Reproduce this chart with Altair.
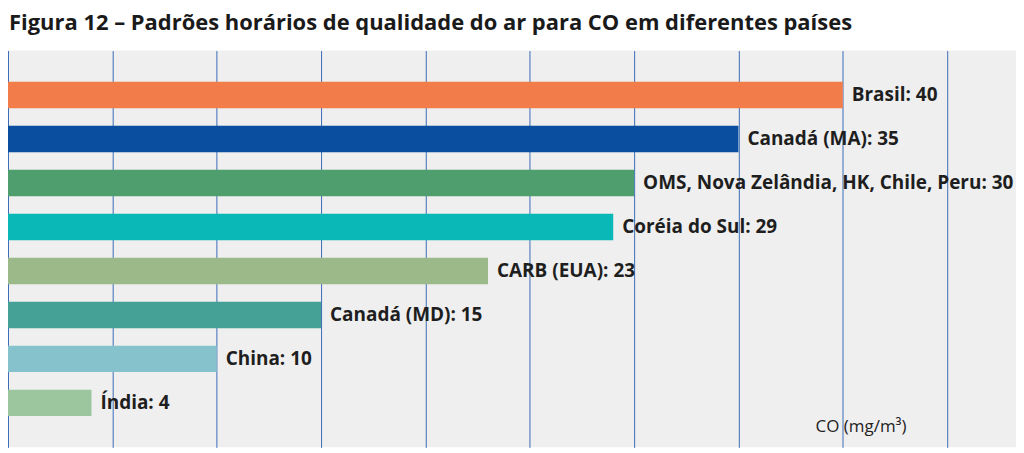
import altair as alt
import pandas as pd

labels = ["Brasil", "Canadá (MA)", "OMS, Nova Zelândia, HK, Chile, Peru", "Coréia do Sul",
          "CARB (EUA)", "Canadá (MD)", "China", "Índia"]
values = [40, 35, 30, 29, 23, 15, 10, 4]
colors = ["#F27D4A", "#0A4EA0", "#4E9E6E", "#0BB8B8", "#9CB98A", "#45A095", "#86C2CC", "#9CC79E"]

df = pd.DataFrame({"pais": labels, "valor": values, "cor": colors})
df["rotulo"] = df["pais"] + ": " + df["valor"].astype(str)

xscale = alt.Scale(domain=[0, 48.3], nice=False, zero=True)
yscale = alt.Scale(domain=labels, paddingInner=0.4, paddingOuter=0.71)

bars = alt.Chart(df).mark_bar().encode(
    x=alt.X("valor:Q", scale=xscale,
            axis=alt.Axis(values=[0, 5, 10, 15, 20, 25, 30, 35, 40, 45], grid=True,
                          gridColor="#3B6CB8", gridWidth=1, gridOpacity=1,
                          labels=False, ticks=False, domain=False, title=None)),
    y=alt.Y("pais:N", scale=yscale, axis=None, sort=labels),
    color=alt.Color("cor:N", scale=None),
)

text = alt.Chart(df).mark_text(align="left", baseline="middle", dx=9, fontSize=19,
                               fontWeight="bold", font="Open Sans", color="#1e1e1e").encode(
    x=alt.X("valor:Q", scale=xscale),
    y=alt.Y("pais:N", scale=yscale, sort=labels),
    text="rotulo:N",
)

unit = alt.Chart(pd.DataFrame({"t": ["CO (mg/m³)"]})).mark_text(
    align="left", baseline="alphabetic", fontSize=17, font="Open Sans", color="#222222"
).encode(
    x=alt.value(810), y=alt.value(383), text="t:N"
)

chart = alt.layer(bars, text, unit).properties(
    width=1011, height=398, padding={"left": 0, "top": 3, "right": 0, "bottom": 0},
    title=alt.TitleParams(
        "Figura 12 – Padrões horários de qualidade do ar para CO em diferentes países",
        anchor="start", fontSize=22, fontWeight="bold", font="Open Sans", color="#1a1a1a",
        offset=16, dx=1,
    ),
).configure_view(fill="#EFEFEF", stroke=None)

chart.save("out.html", embed_options={"renderer": "svg", "actions": False})
